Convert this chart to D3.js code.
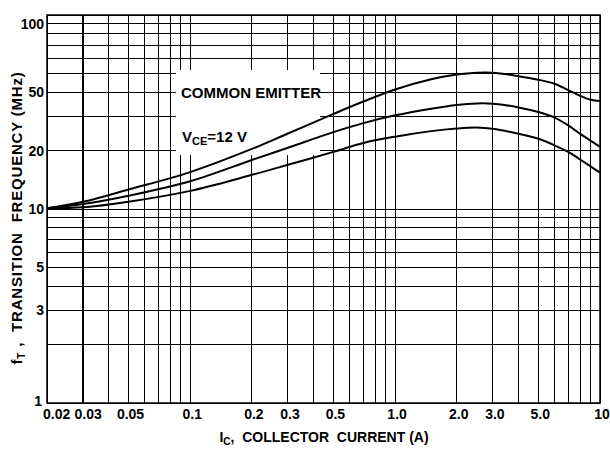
<!DOCTYPE html>
<html><head><meta charset="utf-8">
<script src="https://cdn.jsdelivr.net/npm/d3@7"></script>
<style>
body{margin:0;background:#fff}
svg text{font-family:"Liberation Sans",Arial,sans-serif;font-weight:bold;fill:#000;white-space:pre}
</style>
</head><body><svg id="c" width="610" height="450"></svg>
<script>
// Collector current (A) sample points
const currentA = [0.02,0.03,0.05,0.1,0.2,0.3,0.5,0.7,1.0,1.5,2.0,2.5,3.0,4.0,5.0,6.0,7.0,8.0,9.0,10];
// Transition frequency (MHz) for the three curves
const fTop = [10.1,10.9,12.6,15.5,20.4,24.5,30.9,35.8,41.3,46.6,49.3,50.4,50.4,48.4,46.4,44.2,41.0,38.3,36.6,36.0];
const fMid = [10.1,10.6,11.7,13.9,17.9,20.7,24.9,27.7,30.4,32.9,34.4,35.0,34.9,33.4,31.6,29.6,27.0,24.4,22.5,20.9];
const fBot = [10.1,10.2,10.9,12.4,15.0,16.9,19.7,21.9,23.6,25.2,26.0,26.3,25.9,24.4,23.0,21.3,19.7,18.0,16.6,15.4];

const xTickValues = [0.02,0.03,0.05,0.1,0.2,0.3,0.5,1,2,3,5,10];
const xTickLabels = ["0.02","0.03","0.05","0.1","0.2","0.3","0.5","1.0","2.0","3.0","5.0","10"];
// label positions as they sit in the reference scan
const yTickValues = [90,40,20,10,5,3,1];
const yTickLabels = ["100","50","20","10","5","3","1"];

const svg = d3.select("#c");
const L=47,R=600,T=15,B=403;
const x = d3.scaleLog().domain([0.02,10]).range([L,R]);
const y = d3.scaleLog().domain([1,100]).range([B,T]);

const g = svg.append("g");
// vertical grid
g.selectAll("line.vx").data(x.ticks()).join("line")
  .attr("x1",d=>x(d)).attr("x2",d=>x(d)).attr("y1",T).attr("y2",B)
  .attr("stroke","#000").attr("stroke-width",d=>Math.abs(d-0.03)<1e-9?2:1).attr("shape-rendering","crispEdges");
// horizontal grid
g.selectAll("line.hy").data(y.ticks()).join("line")
  .attr("x1",L).attr("x2",R).attr("y1",d=>y(d)).attr("y2",d=>y(d))
  .attr("stroke","#000").attr("stroke-width",1).attr("shape-rendering","crispEdges");
// border
g.append("rect").attr("x",L).attr("y",T).attr("width",R-L).attr("height",B-T)
  .attr("fill","none").attr("stroke","#000").attr("stroke-width",1.5);

// white label area
svg.append("rect").attr("x",176).attr("y",70).attr("width",144).attr("height",85).attr("fill","#fff");

// curves
const line = d3.line().x(d=>x(d[0])).y(d=>y(d[1])).curve(d3.curveCatmullRom.alpha(0.5));
[fTop,fMid,fBot].forEach(s=>{
  svg.append("path").datum(currentA.map((c,i)=>[c,s[i]])).attr("d",line)
    .attr("fill","none").attr("stroke","#000").attr("stroke-width",2);
});

// x tick labels
svg.selectAll("text.xt").data(xTickValues).join("text")
  .attr("x",(d,i)=>i===0?x(d)-4:(i===1?x(d)+5:x(d)+2)).attr("y",419)
  .attr("text-anchor",(d,i)=>i===0?"start":"middle")
  .attr("font-size",14).text((d,i)=>xTickLabels[i]);
// y tick labels
svg.selectAll("text.yt").data(yTickValues).join("text")
  .attr("x",d=>d===1?42:44).attr("y",d=>y(d)+(d===1?3:5)).attr("text-anchor","end")
  .attr("font-size",14).text((d,i)=>yTickLabels[i]);

// annotations
svg.append("text").attr("x",181).attr("y",98).attr("font-size",15).text("COMMON EMITTER");
const vt = svg.append("text").attr("x",182).attr("y",142).attr("font-size",15);
vt.append("tspan").text("V");
vt.append("tspan").attr("font-size",11).attr("dy",3).text("CE");
vt.append("tspan").attr("dy",-3).text("=12 V");

// x title
const xt = svg.append("text").attr("x",324).attr("y",442).attr("text-anchor","middle").attr("font-size",14);
xt.append("tspan").text("I");
xt.append("tspan").attr("font-size",10).attr("dy",3).text("C");
xt.append("tspan").attr("dy",-3).text(",  COLLECTOR  CURRENT (A)");

// y title
const yt = svg.append("text").attr("transform","translate(22,218) rotate(-90)")
  .attr("text-anchor","middle").attr("font-size",15).attr("letter-spacing",0.8);
yt.append("tspan").text("f");
yt.append("tspan").attr("font-size",10).attr("dy",3).text("T");
yt.append("tspan").attr("dy",-3).text(" ,  TRANSITION  FREQUENCY (MHz)");
</script></body></html>
